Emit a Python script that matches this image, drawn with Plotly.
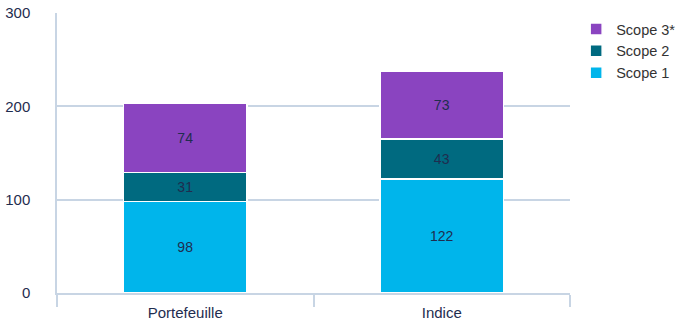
import plotly.graph_objects as go

categories = ["Portefeuille", "Indice"]
scope1 = [98, 122]
scope2 = [31, 43]
scope3 = [74, 73]
series_names = ["Scope 1", "Scope 2", "Scope 3*"]
colors = ["#00b5eb", "#006a80", "#8a44c0"]
y_ticks = [0, 100, 200, 300]

fig = go.Figure()
for name, vals, col in zip(series_names, [scope1, scope2, scope3], colors):
    fig.add_trace(go.Bar(
        x=categories, y=vals, name=name,
        marker=dict(color=col, line=dict(color="white", width=1.5)),
        text=[str(v) for v in vals], textposition="inside",
        insidetextanchor="middle",
        textfont=dict(color="#1f2d4f", size=14, family="Liberation Sans, Arial"),
    ))

fig.update_layout(
    barmode="stack",
    bargap=0.52,
    width=688, height=325,
    margin=dict(l=57, r=118, t=13, b=32, autoexpand=False),
    paper_bgcolor="white", plot_bgcolor="white",
    font=dict(family="Liberation Sans, Arial", size=14, color="#1f2d4f"),
    legend=dict(x=1.012, y=1.0, xanchor="left", yanchor="top",
                traceorder="reversed", font=dict(size=14.5, color="#333333"),
                tracegroupgap=0, itemwidth=30),
    showlegend=True,
)
fig.update_yaxes(range=[0, 300], tickvals=y_ticks, showgrid=True,
                 gridcolor="#c8d5e4", gridwidth=1.5, showline=True,
                 linecolor="#c8d5e4", linewidth=1.5, zeroline=False,
                 ticks="", ticklabelstandoff=22, tickfont=dict(size=15),
                 automargin=False)
fig.update_xaxes(showline=True, linecolor="#c8d5e4", linewidth=1.5,
                 ticks="outside", tickson="boundaries", ticklen=12,
                 tickcolor="#c8d5e4", tickwidth=1.5, tickfont=dict(size=15),
                 ticklabelstandoff=5, automargin=False)

fig.write_html("out.html")
